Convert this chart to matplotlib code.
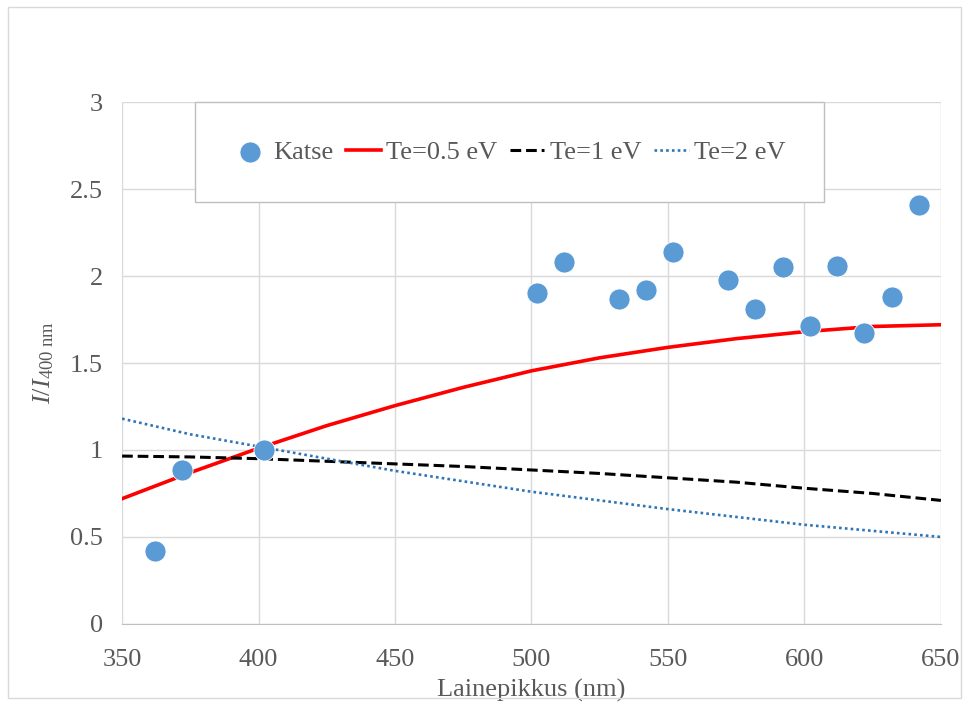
#Importing modules
import numpy as np
import matplotlib
matplotlib.use('Agg')
import matplotlib.pyplot as plt
from matplotlib.patches import Rectangle

#Plot params
plt.rcParams['font.family'] = ['Liberation Serif', 'DejaVu Serif']
plt.rcParams['mathtext.fontset'] = 'custom'
plt.rcParams['mathtext.rm'] = 'Liberation Serif'
plt.rcParams['mathtext.it'] = 'Liberation Serif:italic'
fnt = 19
txt_col = '#595959'
grid_col = '#d9d9d9'

#Measured points (Katse)
wl_exp = [362, 372, 402, 502, 512, 532, 542, 552, 572, 582, 592, 602, 612, 622, 632, 642]
i_exp = [0.42, 0.885, 1.0, 1.90, 2.08, 1.87, 1.92, 2.14, 1.98, 1.81, 2.05, 1.71, 2.06, 1.67, 1.88, 2.41]

#Model curves
wl_model = [350, 375, 400, 425, 450, 475, 500, 525, 550, 575, 600, 625, 650]
te_05 = [0.72, 0.87, 1.01, 1.14, 1.255, 1.36, 1.455, 1.53, 1.59, 1.64, 1.68, 1.71, 1.72]
te_1 = [0.965, 0.96, 0.95, 0.935, 0.92, 0.905, 0.885, 0.865, 0.84, 0.815, 0.78, 0.75, 0.71]
te_2 = [1.18, 1.09, 1.02, 0.95, 0.88, 0.82, 0.76, 0.71, 0.66, 0.615, 0.57, 0.535, 0.50]

x_ticks = [350, 400, 450, 500, 550, 600, 650]
y_ticks = [0, 0.5, 1, 1.5, 2, 2.5, 3]
y_labels = ['0', '0.5', '1', '1.5', '2', '2.5', '3']

fig = plt.figure(figsize=(9.69, 7.09), dpi=100)
ax = fig.add_axes([0.126, 0.120, 0.845, 0.736])

ax.plot(wl_model, te_05, color='#ff0000', lw=2.6, label='Te=0.5 eV', zorder=3)
ax.plot(wl_model, te_1, color='black', lw=2.2, ls=(0, (3.5, 1.6)), label='Te=1 eV', zorder=3)
ax.plot(wl_model, te_2, color='#2e75b6', lw=1.9, ls=(0, (1, 1.2)), label='Te=2 eV', zorder=3)
ax.scatter(wl_exp, i_exp, s=230, color='#5b9bd5', edgecolor='white', linewidth=0.6, label='Katse', zorder=4)

ax.set_xlim(350, 650)
ax.set_ylim(0, 3)
ax.set_xticks(x_ticks)
ax.set_yticks(y_ticks)
ax.set_yticklabels(y_labels)
ax.tick_params(length=0, labelsize=fnt, colors=txt_col)
ax.tick_params(axis='x', pad=18)
ax.tick_params(axis='y', pad=14)
ax.grid(True, color=grid_col, lw=1)
ax.set_axisbelow(True)
for s in ['top', 'right', 'left']:
    ax.spines[s].set_visible(False)
ax.spines['bottom'].set_color('#bfbfbf')

ax.set_xlabel('Lainepikkus (nm)', fontsize=fnt, color=txt_col, labelpad=6)
ax.set_ylabel(r'$I/I_{\mathrm{400\ nm}}$', fontsize=fnt, color=txt_col, labelpad=10)

#Legend order: Katse first
h, l = ax.get_legend_handles_labels()
order = [3, 0, 1, 2]
leg = ax.legend([h[i] for i in order], [l[i] for i in order], loc='upper left',
                bbox_to_anchor=(0.089, 1.0), ncol=4, fontsize=fnt, frameon=True,
                fancybox=False, edgecolor='#bfbfbf', framealpha=1, borderpad=1.45,
                borderaxespad=0, handlelength=1.3, handletextpad=0.2, columnspacing=0.5,
                labelcolor=txt_col)
leg.get_frame().set_linewidth(1)

#Outer border
fig.patches.append(Rectangle((0.008, 0.015), 0.984, 0.975, transform=fig.transFigure,
                             fill=False, edgecolor='#d9d9d9', lw=1))

plt.savefig('out.png', dpi=100)
